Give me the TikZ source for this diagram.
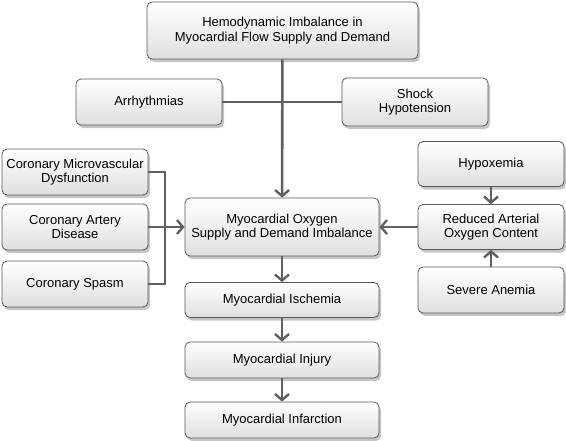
\documentclass[tikz,border=0pt]{standalone}
\usepackage{fontspec}
\setmainfont{Liberation Sans}
\usetikzlibrary{arrows.meta,shadows}

\begin{document}
\begin{tikzpicture}[x=1pt, y=-1pt,
    box/.style={draw=gray!70!black, line width=0.8pt, rounded corners=5pt,
      top color=white, bottom color=gray!25, align=center,
      drop shadow={shadow xshift=2pt, shadow yshift=-3pt, fill=gray!90},
      font=\fontsize{13}{14.5}\selectfont, inner sep=0pt,
      minimum width=146pt, minimum height=46pt},
    wide box/.style={box, minimum width=194pt},
    link/.style={draw=gray!75!black, line width=2.6pt},
    arr/.style={link, -{Straight Barb[length=6pt,width=14pt,line width=2.4pt]}}]
    \useasboundingbox (0,0) rectangle (566,440);

    \node[box, minimum width=271pt, minimum height=57pt] at (282.5,30.5) (hemo) {Hemodynamic Imbalance in\\Myocardial Flow Supply and Demand};
    \node[box] at (149,102) (arrhy) {Arrhythmias};
    \node[box, minimum height=48pt] at (415,102) (shock) {Shock\\Hypotension};

    \node[box] at (75,172) (micro) {Coronary Microvascular\\Dysfunction};
    \node[box] at (75,227) (cad) {Coronary Artery\\Disease};
    \node[box] at (75,284) (spasm) {Coronary Spasm};

    \node[wide box, minimum height=58pt] at (282,227) (oxy) {Myocardial Oxygen\\Supply and Demand Imbalance};
    \node[wide box, minimum height=35pt] at (282,300) (isch) {Myocardial Ischemia};
    \node[wide box, minimum height=36pt] at (282,360) (injury) {Myocardial Injury};
    \node[wide box, minimum height=36pt] at (282,420) (infarct) {Myocardial Infarction};

    \node[box, minimum height=45pt] at (491,164) (hypox) {Hypoxemia};
    \node[box, minimum height=45pt] at (491,227) (reduced) {Reduced Arterial\\Oxygen Content};
    \node[box] at (491,290) (anemia) {Severe Anemia};

    \coordinate (brk) at (165,227);

    \draw[link] (arrhy) -- (shock);
    \draw[arr] (hemo) -- (oxy);
    \draw[link] (micro) -| (brk) |- (spasm);
    \draw[arr] (cad) -- (oxy);
    \draw[arr] (reduced) -- (oxy);
    \draw[arr] (hypox) -- (reduced);
    \draw[arr] (anemia) -- (reduced);
    \draw[arr] (oxy) -- (isch);
    \draw[arr] (isch) -- (injury);
    \draw[arr] (injury) -- (infarct);

\end{tikzpicture}
\end{document}
